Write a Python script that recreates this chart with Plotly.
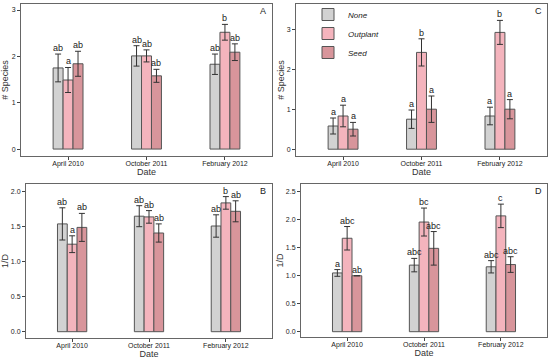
import plotly.graph_objects as go

dates = ["April 2010", "October 2011", "February 2012"]
treatments = ["None", "Outplant", "Seed"]
colors = ["#d2d2d2", "#f4b4bd", "#d8959b"]

# Panel A: # Species
A_vals = {"None": [1.75, 2.01, 1.83], "Outplant": [1.49, 2.01, 2.52], "Seed": [1.84, 1.58, 2.09]}
A_err = {"None": [0.30, 0.22, 0.22], "Outplant": [0.27, 0.13, 0.17], "Seed": [0.27, 0.14, 0.18]}
A_let = {"None": ["ab", "ab", "ab"], "Outplant": ["a", "ab", "b"], "Seed": ["ab", "ab", "ab"]}

# Panel C: # Species
C_vals = {"None": [0.58, 0.75, 0.83], "Outplant": [0.83, 2.42, 2.92], "Seed": [0.50, 1.00, 1.00]}
C_err = {"None": [0.20, 0.23, 0.22], "Outplant": [0.27, 0.34, 0.30], "Seed": [0.17, 0.33, 0.24]}
C_let = {"None": ["a", "a", "a"], "Outplant": ["a", "b", "b"], "Seed": ["a", "a", "a"]}

# Panel B: 1/D
B_vals = {"None": [1.54, 1.65, 1.51], "Outplant": [1.25, 1.64, 1.84], "Seed": [1.49, 1.41, 1.72]}
B_err = {"None": [0.23, 0.15, 0.16], "Outplant": [0.12, 0.09, 0.09], "Seed": [0.20, 0.13, 0.15]}
B_let = {"None": ["ab", "ab", "ab"], "Outplant": ["a", "ab", "b"], "Seed": ["ab", "ab", "ab"]}

# Panel D: 1/D
D_vals = {"None": [1.05, 1.19, 1.16], "Outplant": [1.67, 1.96, 2.07], "Seed": [1.00, 1.49, 1.20]}
D_err = {"None": [0.06, 0.12, 0.11], "Outplant": [0.21, 0.25, 0.21], "Seed": [0.0, 0.30, 0.14]}
D_let = {"None": ["a", "abc", "abc"], "Outplant": ["abc", "bc", "c"], "Seed": ["ab", "abc", "abc"]}

W, H = 550, 361
FONT = "Arial, Liberation Sans, sans-serif"

panels = [
    # name, vals, err, letters, x px, y px (top,bottom), yrange, ytitle, dtick, fmt, title standoff
    ("A", A_vals, A_err, A_let, (21, 272), (4, 156), [-0.15, 3.13], "# Species", 1, "", 4),
    ("C", C_vals, C_err, C_let, (296, 547), (4, 156), [-0.17, 3.63], "# Species", 1, "", 0),
    ("B", B_vals, B_err, B_let, (26, 272), (184, 338), [-0.09, 2.11], "1/D", 0.5, ".1f", 4),
    ("D", D_vals, D_err, D_let, (301, 547), (184, 337), [-0.095, 2.64], "1/D", 0.5, ".1f", 0),
]


def px_x(p):
    return min(1.0, max(0.0, p / W))


def px_y(p):
    return min(1.0, max(0.0, (H - p) / H))


bw = 0.127
fig = go.Figure()
annotations = []
layout = {}
xpos = list(range(len(dates)))

for pi, (name, vals, err, lets, xd, yd, yr, ytitle, dtick, fmt, ysoff) in enumerate(panels):
    sfx = "" if pi == 0 else str(pi + 1)
    xa, ya = "x" + sfx, "y" + sfx
    for ti, t in enumerate(treatments):
        off = (ti - 1) * bw
        xs = [x + off for x in xpos]
        fig.add_trace(go.Bar(
            x=xs, y=vals[t], width=bw, name="<i>%s</i>" % t,
            marker=dict(color=colors[ti], line=dict(color="#555555", width=1)),
            error_y=dict(type="data", array=err[t], color="#333333", thickness=1, width=3),
            xaxis=xa, yaxis=ya, showlegend=(name == "C"), legendgroup=t,
        ))
        for xi, x in enumerate(xs):
            annotations.append(dict(
                x=x, y=vals[t][xi] + err[t][xi], xref=xa, yref=ya, text=lets[t][xi],
                showarrow=False, yanchor="bottom", yshift=-1,
                font=dict(size=9, color="#222", family=FONT)))
    annotations.append(dict(
        x=px_x(xd[1] - 9), y=px_y(yd[0] + 7), xref="paper", yref="paper",
        text=name, showarrow=False, xanchor="center", yanchor="middle",
        font=dict(size=9, color="#222", family=FONT)))
    layout["xaxis" + sfx] = dict(
        domain=[px_x(xd[0]), px_x(xd[1])], anchor=ya, range=[-0.6, 2.6],
        tickvals=xpos, ticktext=dates, ticks="outside", ticklen=3, tickcolor="#444",
        ticklabelstandoff=-2, ticklabeloverflow="allow",
        showline=True, linecolor="#666", linewidth=1, mirror=True, showgrid=False,
        zeroline=False, tickfont=dict(size=7, color="#222", family=FONT),
        title=dict(text="Date", font=dict(size=9, color="#333", family=FONT), standoff=1),
        automargin=False)
    layout["yaxis" + sfx] = dict(
        domain=[px_y(yd[1]), px_y(yd[0])], anchor=xa, range=yr, dtick=dtick,
        tickformat=fmt, ticks="outside", ticklen=3, tickcolor="#444",
        ticklabeloverflow="allow",
        showline=True, linecolor="#666", linewidth=1, mirror=True, showgrid=False,
        zeroline=False, tickfont=dict(size=7, color="#222", family=FONT),
        title=dict(text=ytitle, font=dict(size=9, color="#333", family=FONT), standoff=ysoff),
        automargin=False)

fig.update_layout(
    width=W, height=H, margin=dict(l=0, r=0, t=0, b=0, autoexpand=False),
    paper_bgcolor="white", plot_bgcolor="white", barmode="overlay",
    annotations=annotations,
    legend=dict(x=px_x(308), y=px_y(0), xanchor="left", yanchor="top",
                bgcolor="rgba(0,0,0,0)", font=dict(size=8, color="#222", family=FONT),
                itemwidth=30, tracegroupgap=0),
    **layout,
)
fig.write_html("out.html", config={"displayModeBar": False},
               post_script="document.body.style.margin='0px';")
